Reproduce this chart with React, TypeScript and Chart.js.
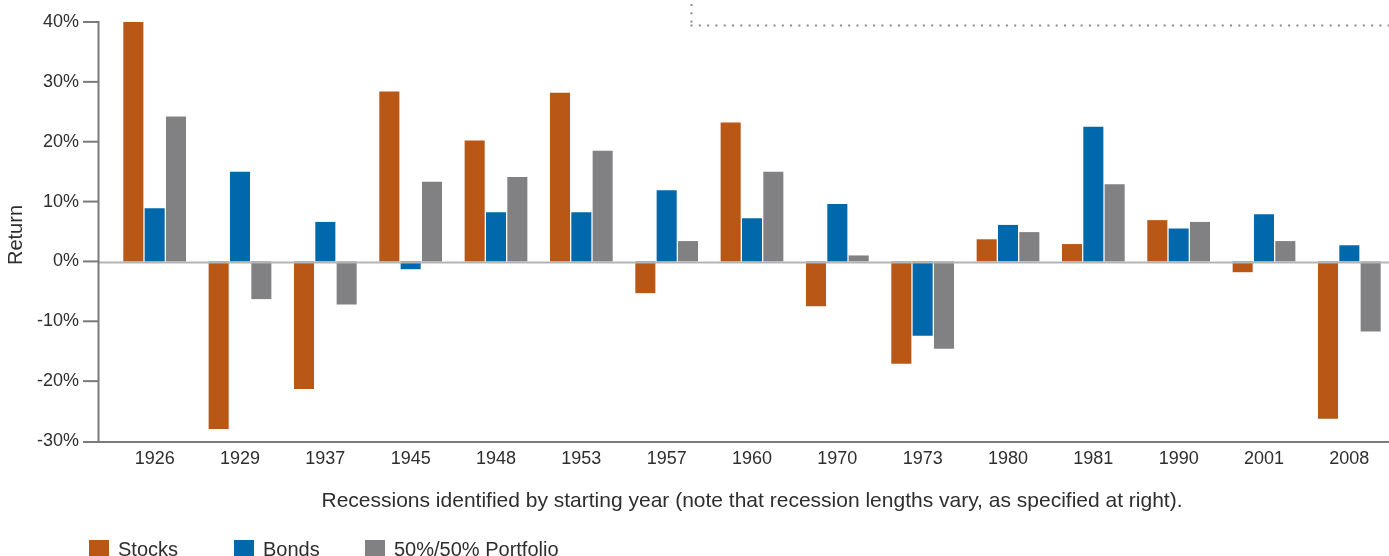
import React, { useEffect, useRef } from "react";
import { Chart, registerables } from "chart.js";

Chart.register(...registerables);

const categories = ["1926", "1929", "1937", "1945", "1948", "1953", "1957", "1960", "1970", "1973", "1980", "1981", "1990", "2001", "2008"];
const stocks = [40.0, -28.0, -21.3, 28.4, 20.2, 28.2, -5.3, 23.2, -7.5, -17.1, 3.7, 2.9, 6.9, -1.8, -26.3];
const bonds = [8.9, 15.0, 6.6, -1.3, 8.2, 8.2, 11.9, 7.2, 9.6, -12.4, 6.1, 22.5, 5.5, 7.9, 2.7];
const portfolio = [24.2, -6.3, -7.2, 13.3, 14.1, 18.5, 3.4, 15.0, 1.0, -14.6, 4.9, 12.9, 6.6, 3.4, -11.7];
const yTickValues = [-30, -20, -10, 0, 10, 20, 30, 40];
const seriesNames = ["Stocks", "Bonds", "50%/50% Portfolio"];
const seriesColors = ["#B85716", "#0068AB", "#818183"];
const yTitle = "Return";
const xTitle = "Recessions identified by starting year (note that recession lengths vary, as specified at right).";

const FONT = "'Liberation Sans', Arial, sans-serif";
const TEXT = "#2e2e2e";
const AXIS = "#7a7a7a";

const decor = {
  id: "decor",
  afterDatasetsDraw(chart: any) {
    const { ctx, chartArea, scales } = chart;
    const y = scales.y;
    const W = chart.width;
    ctx.save();
    const y0 = y.getPixelForValue(0);
    const yTop = y.getPixelForValue(40);
    const yBot = y.getPixelForValue(-30) + 1;
    // zero line
    ctx.lineWidth = 2;
    ctx.strokeStyle = "#b4b4b4";
    ctx.beginPath();
    ctx.moveTo(99, y0 + 1);
    ctx.lineTo(W, y0 + 1);
    ctx.stroke();
    // bottom line
    ctx.strokeStyle = AXIS;
    ctx.beginPath();
    ctx.moveTo(97.5, yBot);
    ctx.lineTo(W, yBot);
    ctx.stroke();
    // vertical axis
    ctx.beginPath();
    ctx.moveTo(98.5, yTop - 1);
    ctx.lineTo(98.5, yBot + 1);
    ctx.stroke();
    // tick marks
    yTickValues.forEach((t) => {
      const py = y.getPixelForValue(t) + (t === -30 ? 1 : 0);
      ctx.beginPath();
      ctx.moveTo(83, py);
      ctx.lineTo(98, py);
      ctx.stroke();
    });
    // dotted frame top right
    ctx.fillStyle = "#8a8a8a";
    for (let py = 4; py < 24; py += 8.3) ctx.fillRect(690.5, py, 2, 2);
    for (let px = 690.5; px < W; px += 8.3) ctx.fillRect(px, 24.5, 2, 2);
    // axis titles
    ctx.fillStyle = TEXT;
    ctx.font = `21px ${FONT}`;
    ctx.textAlign = "center";
    ctx.textBaseline = "middle";
    ctx.fillText(xTitle, (chartArea.left + chartArea.right) / 2, 501);
    ctx.font = `20px ${FONT}`;
    ctx.save();
    ctx.translate(16, 235);
    ctx.rotate(-Math.PI / 2);
    ctx.fillText(yTitle, 0, 0);
    ctx.restore();
    // legend
    const lx = [89, 234, 365];
    ctx.textAlign = "left";
    ctx.textBaseline = "alphabetic";
    seriesNames.forEach((n, i) => {
      ctx.fillStyle = seriesColors[i];
      ctx.fillRect(lx[i], 540, 20, 20);
      ctx.fillStyle = TEXT;
      ctx.fillText(n, lx[i] + 29, 556);
    });
    ctx.restore();
  },
};

export default function App() {
  const ref = useRef<HTMLCanvasElement>(null);
  useEffect(() => {
    if (!ref.current) return;
    Chart.defaults.font.family = FONT;
    const chart = new Chart(ref.current, {
      type: "bar",
      data: {
        labels: categories,
        datasets: [
          { label: seriesNames[0], data: stocks, backgroundColor: seriesColors[0] },
          { label: seriesNames[1], data: bonds, backgroundColor: seriesColors[1] },
          { label: seriesNames[2], data: portfolio, backgroundColor: seriesColors[2] },
        ],
      },
      options: {
        animation: false,
        responsive: false,
        devicePixelRatio: 1,
        datasets: { bar: { categoryPercentage: 0.75, barPercentage: 0.94 } },
        layout: { padding: { top: 22, left: 0, right: 0, bottom: 0 } },
        plugins: { legend: { display: false }, tooltip: { enabled: false } },
        scales: {
          x: {
            grid: { display: false, drawTicks: false },
            border: { display: false },
            ticks: { color: TEXT, font: { size: 18, family: FONT }, padding: 7, maxRotation: 0, autoSkip: false },
            afterFit: (s: any) => { s.height = 115; s.paddingLeft = 0; s.paddingRight = 0; },
          },
          y: {
            min: -30,
            max: 40,
            grid: { display: false, drawTicks: false },
            border: { display: false },
            ticks: {
              stepSize: 10,
              color: TEXT,
              font: { size: 18, family: FONT },
              padding: 33,
              callback: (v: any) => `${v}%`,
            },
            afterFit: (s: any) => { s.width = 112; s.paddingTop = 0; s.paddingBottom = 0; },
          },
        },
      },
      plugins: [decor],
    });
    return () => chart.destroy();
  }, []);
  return (
    <div style={{ position: "absolute", left: 0, top: 0, width: 1389, height: 556, overflow: "hidden", background: "#fff" }}>
      <canvas ref={ref} width={1392} height={556} style={{ display: "block" }} />
    </div>
  );
}
